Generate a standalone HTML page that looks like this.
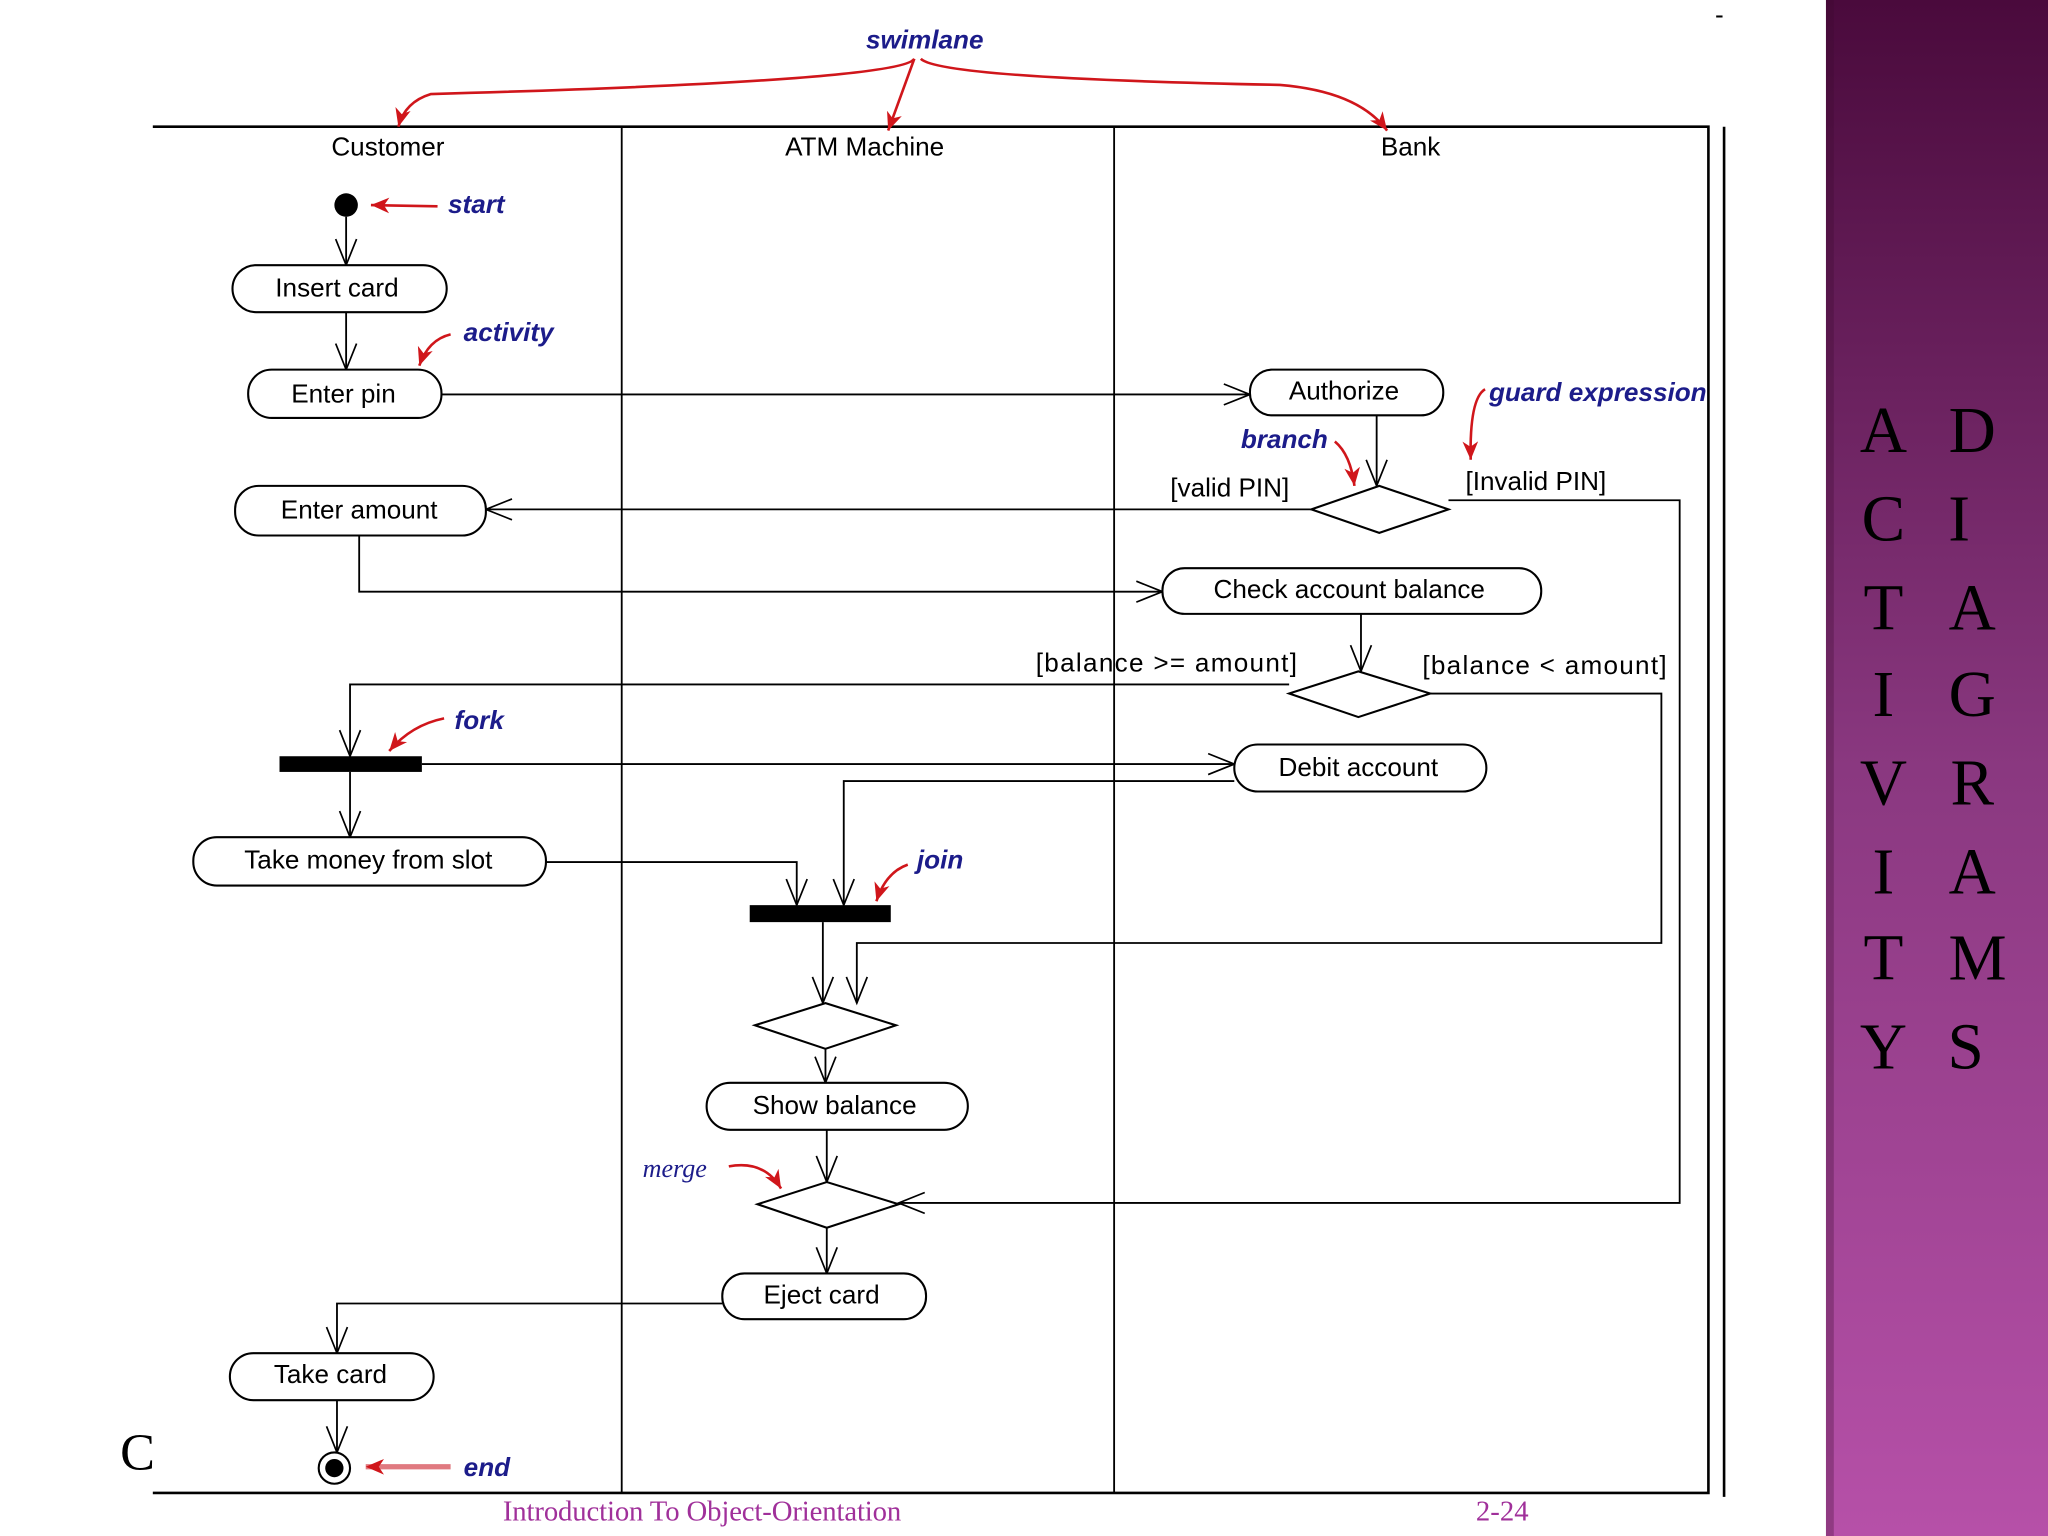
<!DOCTYPE html>
<html><head><meta charset="utf-8"><style>
html,body{margin:0;padding:0;background:#fff}
svg{display:block}
.t{font-family:"Liberation Sans",sans-serif;font-size:20px;fill:#000}
.b{font-family:"Liberation Sans",sans-serif;font-size:20px;font-style:italic;font-weight:bold;fill:#1c1c8a}
.p{fill:#fff;stroke:#000;stroke-width:1.6}
.l{fill:none;stroke:#000;stroke-width:1.4}
.r{fill:none;stroke:#d0161b;stroke-width:2}
.big{font-family:"Liberation Serif",serif;font-size:50px;fill:#000}
</style></head><body>
<svg width="2048" height="1536" viewBox="0 0 1568 1176" xmlns="http://www.w3.org/2000/svg">
<defs>
<marker id="a" markerWidth="24" markerHeight="24" refX="22" refY="12" orient="auto" markerUnits="userSpaceOnUse">
<path d="M2,4 L22,12 L2,20" fill="none" stroke="#000" stroke-width="1.3"/></marker>
<marker id="ra" markerWidth="16" markerHeight="16" refX="14" refY="8" orient="auto" markerUnits="userSpaceOnUse">
<path d="M0,2 L14,8 L0,14 L4,8 Z" fill="#d0161b"/></marker>
<linearGradient id="g" x1="0" y1="0" x2="0" y2="1">
<stop offset="0" stop-color="#4a0a3c"/><stop offset="0.5" stop-color="#8a3880"/><stop offset="1" stop-color="#b650a8"/></linearGradient>
</defs>
<rect x="1398" y="0" width="170" height="1176" fill="url(#g)"/>
<rect x="1398" y="0" width="6" height="1176" fill="#3a0a30" opacity="0.3"/>
<g class="big" text-anchor="middle">
<text x="1442" y="346">A</text><text x="1442" y="414">C</text><text x="1442" y="482">T</text><text x="1442" y="548">I</text><text x="1442" y="616">V</text><text x="1442" y="684">I</text><text x="1442" y="750">T</text><text x="1442" y="818">Y</text>
<text x="1510" y="346">D</text><text x="1500" y="414">I</text><text x="1510" y="482">A</text><text x="1510" y="548">G</text><text x="1510" y="616">R</text><text x="1510" y="684">A</text><text x="1514" y="750">M</text><text x="1505" y="818">S</text>
</g>
<text x="1313" y="18" class="t">-</text>
<path d="M117,97 H1308 V1143 H117" fill="none" stroke="#000" stroke-width="2"/>
<path d="M476,97 V1143 M853,97 V1143" class="l"/>
<path d="M1320,97 V1146" stroke="#000" stroke-width="2"/>
<g class="t" text-anchor="middle"><text x="297" y="119">Customer</text><text x="662" y="119">ATM Machine</text><text x="1080" y="119">Bank</text></g>
<text x="708" y="37" class="b" text-anchor="middle">swimlane</text>
<path d="M700,45 Q690,62 330,72 Q310,78 305,97" class="r" marker-end="url(#ra)"/>
<path d="M700,45 L680,100" class="r" marker-end="url(#ra)"/>
<path d="M705,45 Q720,60 980,65 Q1040,70 1062,100" class="r" marker-end="url(#ra)"/>
<circle cx="265" cy="157" r="9"/>
<path d="M335,158 L284,157" class="r" marker-end="url(#ra)"/>
<text x="343" y="163" class="b">start</text>
<g class="l" marker-end="url(#a)">
<path d="M265,166 V203"/>
<path d="M265,239 V283"/>
<path d="M338,302 H957"/>
<path d="M1054,318 V372"/>
<path d="M1004,390 H372"/>
<path d="M1109,383 H1286 V921 H688"/>
<path d="M275,410 V453 H890"/>
<path d="M1042,470 V514"/>
<path d="M987,524 H268 V579"/>
<path d="M1095,531 H1272 V722 H656 V768"/>
<path d="M323,585 H945"/>
<path d="M268,591 V641"/>
<path d="M945,598 H646 V693"/>
<path d="M418,660 H610 V693"/>
<path d="M630,706 V768"/>
<path d="M632,803 V829"/>
<path d="M633,865 V905"/>
<path d="M633,940 V975"/>
<path d="M553,998 H258 V1036"/>
<path d="M258,1072 V1112"/>
</g>
<rect class="p" x="178" y="203" width="164" height="36" rx="18"/><text class="t" x="258" y="227" text-anchor="middle">Insert card</text>
<rect class="p" x="190" y="283" width="148" height="37" rx="18"/><text class="t" x="263" y="308" text-anchor="middle">Enter pin</text>
<rect class="p" x="957" y="283" width="148" height="35" rx="17"/><text class="t" x="1029" y="306" text-anchor="middle">Authorize</text>
<rect class="p" x="180" y="372" width="192" height="38" rx="18"/><text class="t" x="275" y="397" text-anchor="middle">Enter amount</text>
<rect class="p" x="890" y="435" width="290" height="35" rx="17"/><text class="t" x="1033" y="458" text-anchor="middle">Check account balance</text>
<rect class="p" x="945" y="570" width="193" height="36" rx="18"/><text class="t" x="1040" y="594" text-anchor="middle">Debit account</text>
<rect class="p" x="148" y="641" width="270" height="37" rx="18"/><text class="t" x="282" y="665" text-anchor="middle">Take money from slot</text>
<rect class="p" x="541" y="829" width="200" height="36" rx="18"/><text class="t" x="639" y="853" text-anchor="middle">Show balance</text>
<rect class="p" x="553" y="975" width="156" height="35" rx="17"/><text class="t" x="629" y="998" text-anchor="middle">Eject card</text>
<rect class="p" x="176" y="1036" width="156" height="36" rx="18"/><text class="t" x="253" y="1059" text-anchor="middle">Take card</text>
<polygon class="p" points="1004,390 1056,372 1109,390 1056,408"/>
<polygon class="p" points="987,531 1040,514 1095,531 1040,549"/>
<polygon class="p" points="578,785 632,768 686,785 632,803"/>
<polygon class="p" points="580,922 633,905 688,922 633,940"/>
<rect x="214" y="579" width="109" height="12"/>
<rect x="574" y="693" width="108" height="13"/>
<circle cx="256" cy="1124" r="12" fill="#fff" stroke="#000" stroke-width="1.6"/><circle cx="256" cy="1124" r="7"/>
<g class="t"><text x="896" y="380">[valid PIN]</text><text x="1122" y="375">[Invalid PIN]</text>
<text x="793" y="514" textLength="200">[balance &gt;= amount]</text><text x="1089" y="516" textLength="187">[balance &lt; amount]</text></g>
<text x="355" y="261" class="b">activity</text><path d="M345,256 Q328,260 321,280" class="r" marker-end="url(#ra)"/>
<text x="1140" y="307" class="b">guard expression</text><path d="M1137,298 Q1125,305 1126,352" class="r" marker-end="url(#ra)"/>
<text x="950" y="343" class="b">branch</text><path d="M1022,338 Q1034,348 1037,372" class="r" marker-end="url(#ra)"/>
<text x="348" y="558" class="b">fork</text><path d="M340,550 Q315,555 298,575" class="r" marker-end="url(#ra)"/>
<text x="702" y="665" class="b">join</text><path d="M695,662 Q678,668 671,690" class="r" marker-end="url(#ra)"/>
<text x="492" y="901" font-family="Liberation Serif,serif" font-style="italic" font-size="20" fill="#1c1c8a">merge</text>
<path d="M558,893 Q585,888 598,910" class="r" marker-end="url(#ra)"/>
<path d="M345,1123 H280" stroke="#e07a80" stroke-width="4" fill="none" marker-end="url(#ra)"/>
<text x="355" y="1130" class="b">end</text>
<text x="92" y="1125" font-family="Liberation Serif,serif" font-size="40">C</text>
<text x="385" y="1164" font-family="Liberation Serif,serif" font-size="22" fill="#a0309a" textLength="305">Introduction To Object-Orientation</text>
<text x="1130" y="1164" font-family="Liberation Serif,serif" font-size="22" fill="#a0309a">2-24</text>
</svg>
</body></html>
